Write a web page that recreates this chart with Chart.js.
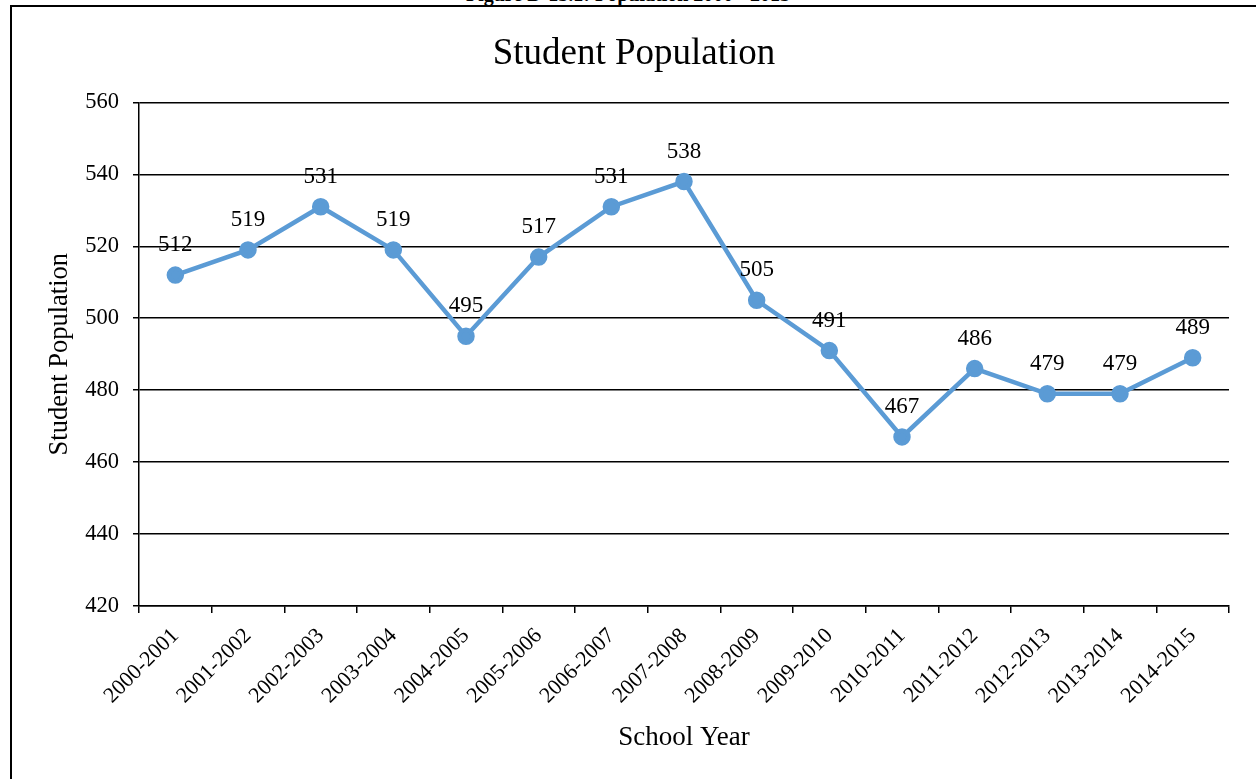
<!DOCTYPE html>
<html>
<head>
<meta charset="utf-8">
<script src="https://cdn.jsdelivr.net/npm/chart.js@4.4.1/dist/chart.umd.min.js"></script>
<style>
  html, body { margin: 0; padding: 0; background: #fff; }
  #wrap { position: relative; width: 1256px; height: 779px; overflow: hidden; }
  #caption {
    position: absolute; left: 0; width: 1256px; top: -17px; text-align: center;
    font: bold 20px "Liberation Serif", "Times New Roman", serif; color: #000;
  }
  #frame {
    position: absolute; left: 10px; top: 5px; right: -4px; bottom: -4px;
    border-left: 2px solid #000; border-top: 2px solid #000;
  }
  canvas { position: absolute; left: 0; top: 0; }
</style>
</head>
<body>
<div id="wrap">
  <div id="caption">Figure D-15.1: Population 2000 - 2015</div>
  <div id="frame"></div>
  <canvas id="chart" width="1256" height="779"></canvas>
</div>
<script>
// School years on the horizontal axis
const schoolYears = [
  '2000-2001', '2001-2002', '2002-2003', '2003-2004', '2004-2005',
  '2005-2006', '2006-2007', '2007-2008', '2008-2009', '2009-2010',
  '2010-2011', '2011-2012', '2012-2013', '2013-2014', '2014-2015'
];

// Enrolled students per school year
const studentCounts = [512, 519, 531, 519, 495, 517, 531, 538, 505, 491, 467, 486, 479, 479, 489];

// Vertical axis range and step
const yMin = 420;
const yMax = 560;
const yStep = 20;

const serif = '"Liberation Serif", "Times New Roman", serif';
const lineBlue = '#5B9BD5';

// Writes each point's value centred above its marker
const valueLabels = {
  id: 'valueLabels',
  afterDatasetsDraw(chart) {
    const ctx = chart.ctx;
    const meta = chart.getDatasetMeta(0);
    const values = chart.data.datasets[0].data;
    ctx.save();
    ctx.font = '23px ' + serif;
    ctx.fillStyle = '#000';
    ctx.textAlign = 'center';
    ctx.textBaseline = 'middle';
    meta.data.forEach((pt, i) => {
      ctx.fillText(String(values[i]), pt.x, pt.y - 30);
    });
    ctx.restore();
  }
};

new Chart(document.getElementById('chart'), {
  type: 'line',
  data: {
    labels: schoolYears,
    datasets: [{
      data: studentCounts,
      borderColor: lineBlue,
      backgroundColor: lineBlue,
      borderWidth: 4.5,
      pointRadius: 6.5,
      pointHoverRadius: 6.5,
      pointBackgroundColor: lineBlue,
      pointBorderColor: lineBlue,
      tension: 0,
      fill: false
    }]
  },
  options: {
    responsive: false,
    animation: false,
    devicePixelRatio: 1,
    layout: { padding: { left: 12, right: 0, top: 32, bottom: 0 } },
    plugins: {
      legend: { display: false },
      tooltip: { enabled: false },
      title: {
        display: true,
        text: 'Student Population',
        color: '#000',
        font: { family: serif, size: 37, weight: 'normal', lineHeight: 1.2 },
        padding: { top: 0, bottom: 26 }
      }
    },
    scales: {
      x: {
        type: 'category',
        offset: true,
        grid: {
          offset: true,
          drawOnChartArea: false,
          drawTicks: true,
          tickLength: 7,
          color: '#000',
          lineWidth: 1.5
        },
        border: { display: true, color: '#000', width: 1.5 },
        ticks: {
          color: '#000',
          font: { family: serif, size: 22 },
          minRotation: 45,
          maxRotation: 45,
          autoSkip: false,
          padding: 10
        },
        title: {
          display: true,
          text: 'School Year',
          color: '#000',
          font: { family: serif, size: 27, lineHeight: 1.2 },
          padding: { top: 0, bottom: 25 }
        },
        afterFit(scale) { scale.height = 173; }
      },
      y: {
        min: yMin,
        max: yMax,
        grid: {
          color: '#000',
          lineWidth: 1.5,
          drawTicks: true,
          tickLength: 6
        },
        border: { display: true, color: '#000', width: 1.5 },
        ticks: {
          stepSize: yStep,
          color: '#000',
          font: { family: serif, size: 22.5 },
          padding: 14
        },
        title: {
          display: true,
          text: 'Student Population',
          color: '#000',
          font: { family: serif, size: 26.5, lineHeight: 1.2 },
          padding: { top: 32, bottom: 0 }
        },
        afterFit(scale) { scale.width = 127; }
      },
      // blank margin on the right of the plot area
      yRight: {
        position: 'right',
        min: yMin,
        max: yMax,
        grid: { display: false, drawTicks: false },
        border: { display: false },
        ticks: { display: false },
        afterFit(scale) { scale.width = 27; }
      }
    }
  },
  plugins: [valueLabels]
});
</script>
</body>
</html>
